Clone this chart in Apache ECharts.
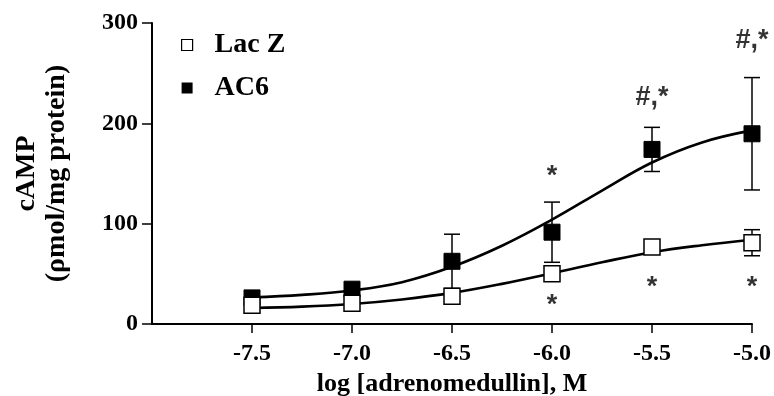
<!DOCTYPE html>
<html><head><meta charset="utf-8">
<script src="https://cdn.jsdelivr.net/npm/echarts@6/dist/echarts.min.js"></script>
<style>html,body{margin:0;padding:0;background:#fff}#c{width:774px;height:396px}</style>
</head><body><div id="c"></div>
<script>
// ---- data ----
const doses = [-7.5, -7.0, -6.5, -6.0, -5.5, -5.0];
const lacZMean = [18.7, 20.6, 27.6, 50, 76.8, 81];
const lacZSem = [2, 2, 3, 4, 3, 13];
const ac6Mean = [26, 34.7, 62.5, 91.5, 174, 189.6];
const ac6Sem = [2, 3, 27, 30, 22, 56];
const fitX = [-7.5, -7.25, -7.0, -6.75, -6.5, -6.25, -6.0, -5.75, -5.5, -5.25, -5.0];
const lacZFit = [16, 17.3, 20, 24.5, 31, 40, 50.5, 61.5, 71.5, 78.5, 84];
const ac6Fit = [26.5, 29, 33.4, 41.7, 57, 78, 104, 133, 161, 181, 193];
const xTicks = [-7.5, -7.0, -6.5, -6.0, -5.5, -5.0];
const annoX = [-6.0, -5.5, -5.0, -6.0, -5.5, -5.0];
const annoY = [147, 226, 283, 18, 36, 36];
const annoText = ['*', '#,*', '#,*', '*', '*', '*'];

const FONT = 'Liberation Serif';
const txt = (size) => ({fontFamily: FONT, fontWeight: 'bold', fontSize: size, color: '#000'});

function errSeries(name, mean, sem) {
  return {
    type: 'custom', name: name, z: 2, silent: true,
    data: doses.map((x, i) => [x, mean[i] - sem[i], mean[i] + sem[i]]),
    renderItem: function (params, api) {
      const x = api.value(0);
      const lo = api.coord([x, api.value(1)]);
      const hi = api.coord([x, api.value(2)]);
      const w = 8;
      const st = {stroke: '#000', lineWidth: 1.5, fill: null};
      return {type: 'group', children: [
        {type: 'line', shape: {x1: lo[0], y1: lo[1], x2: hi[0], y2: hi[1]}, style: st},
        {type: 'line', shape: {x1: hi[0] - w, y1: hi[1], x2: hi[0] + w, y2: hi[1]}, style: st},
        {type: 'line', shape: {x1: lo[0] - w, y1: lo[1], x2: lo[0] + w, y2: lo[1]}, style: st}
      ]};
    }
  };
}

const chart = echarts.init(document.getElementById('c'), null, {renderer: 'canvas'});
chart.setOption({
  animation: false,
  grid: {left: 152, right: 22, top: 23, bottom: 72, containLabel: false, outerBoundsMode: 'none'},
  legend: {
    orient: 'vertical', left: 181, top: 31, padding: 0, itemGap: 15,
    itemWidth: 11, itemHeight: 11,
    textStyle: Object.assign(txt(28), {lineHeight: 28, padding: [0, 0, 0, 17]}),
    data: [
      {name: 'Lac Z', icon: 'rect', itemStyle: {color: '#fff', borderColor: '#000', borderWidth: 1.2}},
      {name: 'AC6', icon: 'rect', itemStyle: {color: '#000', borderColor: '#000', borderWidth: 0}}
    ]
  },
  xAxis: {
    type: 'value', min: -8, max: -5, interval: 0.5,
    axisLine: {lineStyle: {color: '#000', width: 2}},
    axisTick: {customValues: xTicks, length: 9, lineStyle: {color: '#000', width: 1.5}},
    axisLabel: Object.assign(txt(24), {customValues: xTicks, margin: 18, formatter: v => v.toFixed(1)}),
    splitLine: {show: false},
    name: 'log [adrenomedullin], M', nameLocation: 'middle', nameGap: 46,
    nameTextStyle: txt(26)
  },
  yAxis: {
    type: 'value', min: 0, max: 300, interval: 100,
    axisLine: {show: true, lineStyle: {color: '#000', width: 2}},
    axisTick: {show: true, length: 10, lineStyle: {color: '#000', width: 1.5}},
    axisLabel: Object.assign(txt(24), {margin: 14}),
    splitLine: {show: false},
    name: 'cAMP\n(ρmol/mg protein)', nameLocation: 'middle', nameRotate: 90, nameGap: 80,
    nameTextStyle: Object.assign(txt(28), {lineHeight: 30})
  },
  series: [
    {type: 'line', name: 'fitLacZ', data: fitX.map((x, i) => [x, lacZFit[i]]), smooth: 0.4,
     showSymbol: false, silent: true, z: 1, lineStyle: {color: '#000', width: 2.6}},
    {type: 'line', name: 'fitAC6', data: fitX.map((x, i) => [x, ac6Fit[i]]), smooth: 0.4,
     showSymbol: false, silent: true, z: 1, lineStyle: {color: '#000', width: 2.6}},
    errSeries('errAC6', ac6Mean, ac6Sem),
    errSeries('errLacZ', lacZMean, lacZSem),
    {type: 'scatter', name: 'AC6', symbol: 'rect', symbolSize: 16, z: 4,
     data: doses.map((x, i) => [x, ac6Mean[i]]),
     itemStyle: {color: '#000', borderColor: '#000', borderWidth: 1, opacity: 1}},
    {type: 'scatter', name: 'Lac Z', symbol: 'rect', symbolSize: 16, z: 5,
     data: doses.map((x, i) => [x, lacZMean[i]]),
     itemStyle: {color: '#fff', borderColor: '#000', borderWidth: 1.5, opacity: 1}},
    {type: 'scatter', name: 'annotations', symbolSize: 0, silent: true, z: 6,
     data: annoX.map((x, i) => [x, annoY[i], annoText[i]]),
     label: {show: true, position: 'inside', formatter: p => p.value[2],
             fontFamily: 'Liberation Sans', fontWeight: 'bold', fontSize: 27, color: '#000'}}
  ]
});
</script>
</body></html>
